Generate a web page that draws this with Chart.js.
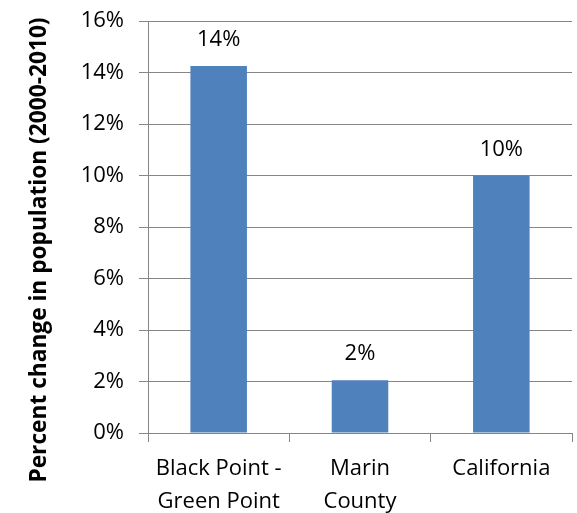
<!DOCTYPE html>
<html>
<head>
<meta charset="utf-8">
<script src="https://cdn.jsdelivr.net/npm/chart.js@4/dist/chart.umd.min.js"></script>
<style>
  html, body { margin: 0; padding: 0; background: #ffffff; }
  #wrap { width: 577px; height: 513px; position: relative; }
</style>
</head>
<body>
<div id="wrap"><canvas id="c" width="577" height="513"></canvas></div>
<script>
const categories = [["Black Point -", "Green Point"], ["Marin", "County"], "California"];
const percentChange = [14.25, 2.05, 10.0];
const dataLabels = ["14%", "2%", "10%"];
const yAxisTitle = "Percent change in population (2000-2010)";
const yMin = 0, yMax = 16, yStep = 2;

const FONT = "'Open Sans', 'Liberation Sans', sans-serif";
const GRID = "#868686";
const BAR = "#4F81BD";

const valueLabelPlugin = {
  id: 'valueLabels',
  afterDatasetsDraw(chart) {
    const ctx = chart.ctx;
    const meta = chart.getDatasetMeta(0);
    ctx.save();
    ctx.fillStyle = '#000000';
    ctx.font = "22px " + FONT;
    ctx.textAlign = 'center';
    ctx.textBaseline = 'alphabetic';
    meta.data.forEach((el, i) => {
      ctx.fillText(dataLabels[i], el.x, el.y - 20);
    });
    ctx.restore();
  }
};

const yTitlePlugin = {
  id: 'yTitle',
  afterDraw(chart) {
    const ctx = chart.ctx;
    ctx.save();
    ctx.translate(40, 250);
    ctx.rotate(-Math.PI / 2);
    ctx.fillStyle = '#000000';
    ctx.font = "bold 22.7px " + FONT;
    ctx.textAlign = 'center';
    ctx.textBaseline = 'middle';
    ctx.fillText(yAxisTitle, 0, 0);
    ctx.restore();
  }
};

new Chart(document.getElementById('c'), {
  type: 'bar',
  data: {
    labels: categories,
    datasets: [{
      data: percentChange,
      backgroundColor: BAR,
      borderWidth: 0,
      barPercentage: 0.4,
      categoryPercentage: 1.0
    }]
  },
  options: {
    responsive: false,
    animation: false,
    devicePixelRatio: 1,
    layout: { padding: { left: 0, top: 21, right: 5, bottom: 0 } },
    plugins: {
      legend: { display: false },
      tooltip: { enabled: false },
      title: { display: false }
    },
    scales: {
      x: {
        offset: true,
        grid: {
          offset: true,
          drawOnChartArea: false,
          drawTicks: true,
          tickLength: 9,
          color: GRID,
          lineWidth: 1
        },
        border: { display: true, color: GRID, width: 1 },
        ticks: {
          color: '#000000',
          font: { family: FONT, size: 22, lineHeight: 1.52 },
          padding: 10,
          maxRotation: 0,
          autoSkip: false
        },
        afterFit(scale) { scale.height = 80; scale.paddingLeft = 0; scale.paddingRight = 0; }
      },
      y: {
        min: yMin,
        max: yMax,
        grid: {
          color: GRID,
          lineWidth: 1,
          drawTicks: true,
          tickLength: 9
        },
        border: { display: true, color: GRID, width: 1 },
        ticks: {
          stepSize: yStep,
          color: '#000000',
          font: { family: FONT, size: 22 },
          padding: 15,
          callback: (v) => v + '%'
        },
        afterFit(scale) { scale.width = 148; scale.paddingTop = 0; scale.paddingBottom = 0; }
      }
    }
  },
  plugins: [valueLabelPlugin, yTitlePlugin]
});
</script>
</body>
</html>
